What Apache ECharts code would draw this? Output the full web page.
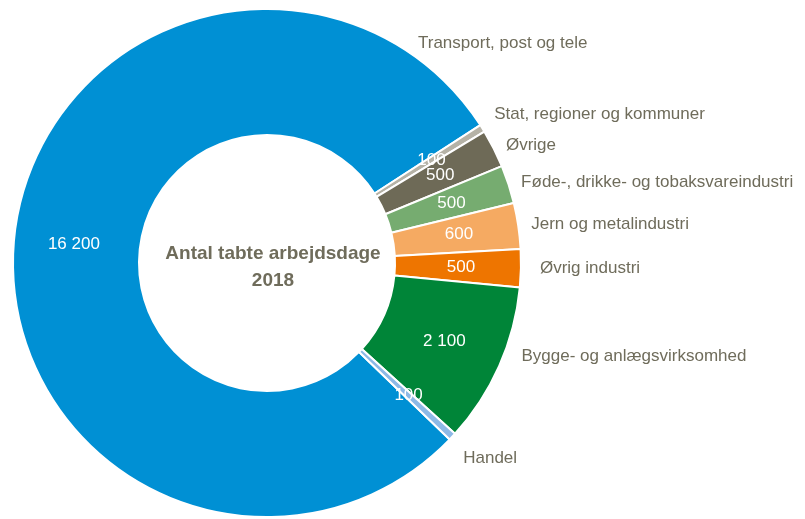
<!DOCTYPE html>
<html>
<head>
<meta charset="UTF-8">
<title>Antal tabte arbejdsdage 2018</title>
<script src="https://cdn.jsdelivr.net/npm/echarts@6/dist/echarts.min.js"></script>
<style>
  html, body { margin: 0; padding: 0; background: #fff; }
</style>
</head>
<body>
	<div id="main" style="width: 805px; height: 519px;"></div>

	<script type="text/javascript">
    // data
    var brancher = ['Transport, post og tele', 'Stat, regioner og kommuner', 'Øvrige',
        'Føde-, drikke- og tobaksvareindustri', 'Jern og metalindustri', 'Øvrig industri',
        'Bygge- og anlægsvirksomhed', 'Handel'];
    var dage = [16200, 100, 500, 500, 600, 500, 2100, 100];
    var farver = ['#0090d4', '#b5b2a6', '#6e6a57', '#76ac70', '#f5aa62', '#ee7500', '#008538', '#8db9e6'];

    var textColor = '#6f6c5b';
    var fontFam = '"Liberation Sans", Arial, sans-serif';

    var myChart = echarts.init(document.getElementById('main'));

    function fmt(v) {
        // tusindtalsseparator med mellemrum
        return String(v).replace(/\B(?=(\d{3})+(?!\d))/g, ' ');
    }

    var pieData = [], nameData = [];
    for (var i = 0; i < brancher.length; i++) {
        pieData.push({ name: brancher[i], value: dage[i], itemStyle: { color: farver[i] } });
        nameData.push({ name: brancher[i], value: dage[i] });
    }
    // Transport-navnet står oppe til højre, ikke ud for sektoren
    nameData[0].label = { position: 'inside' };

    // små justeringer af navneetiketter (som i Excel-figuren)
    var nudge = { 1: [0, -10], 5: [6, 0], 6: [10, -13], 7: [0, 16] };

    var option = {
        animation: false,
        graphic: [{
            type: 'text',
            x: 273,
            y: 267,
            style: {
                text: 'Antal tabte arbejdsdage\n2018',
                fill: textColor,
                font: 'bold 19px ' + fontFam,
                align: 'center',
                verticalAlign: 'middle',
                lineHeight: 27
            }
        }],
        series: [
            {
                type: 'pie',
                center: [267, 263],
                radius: [128, 254],
                startAngle: -44,
                clockwise: true,
                avoidLabelOverlap: false,
                itemStyle: { borderColor: '#fff', borderWidth: 2 },
                label: {
                    show: true,
                    position: 'inside',
                    color: '#fff',
                    fontSize: 17,
                    fontFamily: fontFam,
                    formatter: function (p) { return fmt(p.value); }
                },
                labelLayout: { hideOverlap: false },
                labelLine: { show: false },
                emphasis: { disabled: true },
                data: pieData
            },
            {
                type: 'pie',
                silent: true,
                center: [267, 263],
                radius: [128, 254],
                startAngle: -44,
                clockwise: true,
                itemStyle: { color: 'rgba(0,0,0,0)' },
                label: {
                    show: true,
                    position: 'outside',
                    color: textColor,
                    fontSize: 17,
                    fontFamily: fontFam,
                    formatter: '{b}'
                },
                labelLine: { show: false, length: 8, length2: 0 },
                labelLayout: function (p) {
                    if (p.dataIndex === 0) {
                        return { x: 418, y: 43, align: 'left', verticalAlign: 'middle' };
                    }
                    var n = nudge[p.dataIndex];
                    if (n) {
                        return { dx: n[0], dy: n[1] };
                    }
                },
                emphasis: { disabled: true },
                data: nameData
            }
        ]
    };

    myChart.setOption(option);
    </script>
</body>
</html>
